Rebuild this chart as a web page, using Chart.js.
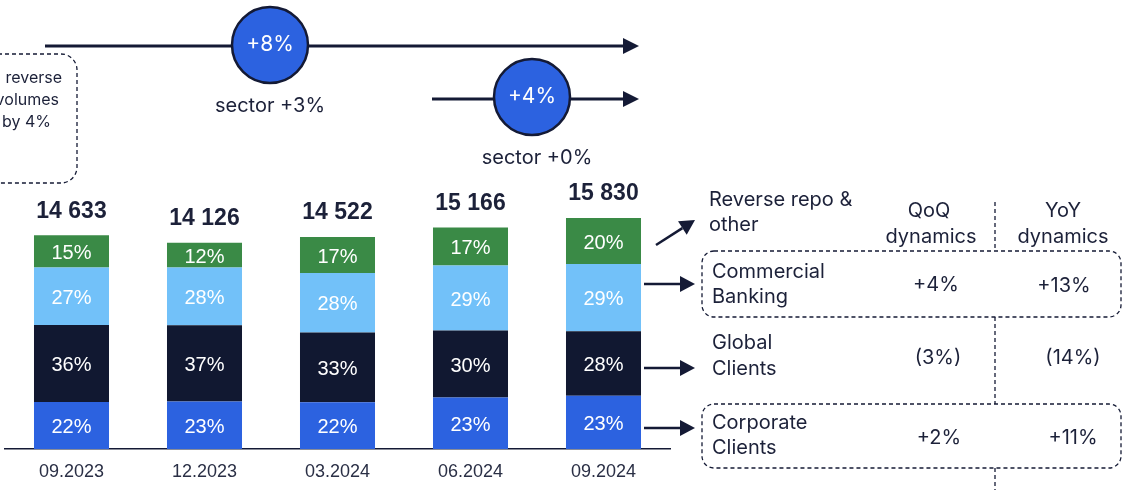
<!DOCTYPE html>
<html>
<head>
<meta charset="utf-8">
<script src="https://cdn.jsdelivr.net/npm/chart.js@4.4.1/dist/chart.umd.min.js"></script>
<style>
  html, body { margin: 0; padding: 0; background: #ffffff; }
  #wrap { width: 1128px; height: 490px; }
</style>
</head>
<body>
<div id="wrap"><canvas id="myBarChart" width="1128" height="490"></canvas></div>
<script>
///////////////////////////////////////
//////////////// Data /////////////////
///////////////////////////////////////

const periods = ['09.2023', '12.2023', '03.2024', '06.2024', '09.2024'];
const totals = [14633, 14126, 14522, 15166, 15830];

// shares of the total, bottom to top
const corporateShare = [22, 23, 22, 23, 23];
const globalShare = [36, 37, 33, 30, 28];
const commercialShare = [27, 28, 28, 29, 29];
const reverseShare = [15, 12, 17, 17, 20];

const NAVY = '#141a35';
const TEXT = '#1c2139';
const BLUE = '#2c62e0';
const DARK = '#111831';
const LIGHT = '#72c1f9';
const GREEN = '#3a8a46';

const shares = [corporateShare, globalShare, commercialShare, reverseShare];

// value of a stacked segment (share of the bar total)
function segmentValues(share) {
    return share.map((s, i) => {
        const sum = shares.reduce((a, arr) => a + arr[i], 0);
        return totals[i] * s / sum;
    });
}

function formatTotal(v) {
    return String(v).replace(/\B(?=(\d{3})+(?!\d))/g, ' ');
}

///////////////////////////////////////
/////////// Drawing helpers ///////////
///////////////////////////////////////

function arrow(ctx, x1, y1, x2, y2, head, half, width) {
    const ang = Math.atan2(y2 - y1, x2 - x1);
    const bx = x2 - head * Math.cos(ang);
    const by = y2 - head * Math.sin(ang);
    ctx.save();
    ctx.strokeStyle = NAVY;
    ctx.fillStyle = NAVY;
    ctx.lineWidth = width;
    ctx.beginPath();
    ctx.moveTo(x1, y1);
    ctx.lineTo(bx, by);
    ctx.stroke();
    ctx.beginPath();
    ctx.moveTo(x2, y2);
    ctx.lineTo(bx + half * Math.sin(ang), by - half * Math.cos(ang));
    ctx.lineTo(bx - half * Math.sin(ang), by + half * Math.cos(ang));
    ctx.closePath();
    ctx.fill();
    ctx.restore();
}

function dashedBox(ctx, x, y, w, h, r) {
    ctx.save();
    ctx.strokeStyle = NAVY;
    ctx.lineWidth = 1.3;
    ctx.setLineDash([4, 3]);
    ctx.beginPath();
    ctx.roundRect(x, y, w, h, r);
    ctx.stroke();
    ctx.restore();
}

function dashedLine(ctx, x, y1, y2) {
    ctx.save();
    ctx.strokeStyle = NAVY;
    ctx.lineWidth = 1.3;
    ctx.setLineDash([4, 3]);
    ctx.beginPath();
    ctx.moveTo(x, y1);
    ctx.lineTo(x, y2);
    ctx.stroke();
    ctx.restore();
}

function badge(ctx, cx, cy, r, text) {
    ctx.save();
    ctx.beginPath();
    ctx.arc(cx, cy, r, 0, Math.PI * 2);
    ctx.fillStyle = BLUE;
    ctx.fill();
    ctx.lineWidth = 2.5;
    ctx.strokeStyle = NAVY;
    ctx.stroke();
    ctx.fillStyle = '#ffffff';
    ctx.font = '21px Inter';
    ctx.textAlign = 'center';
    ctx.textBaseline = 'middle';
    ctx.fillText(text, cx, cy);
    ctx.restore();
}

function text(ctx, str, x, y, align, font) {
    ctx.save();
    ctx.fillStyle = TEXT;
    ctx.font = font || '20px Inter';
    ctx.textAlign = align || 'left';
    ctx.textBaseline = 'middle';
    ctx.fillText(str, x, y);
    ctx.restore();
}

///////////////////////////////////////
////////////// Plugins ////////////////
///////////////////////////////////////

// percentages inside the bars and totals above them
const barLabels = {
    id: 'barLabels',
    afterDatasetsDraw(chart) {
        const ctx = chart.ctx;
        ctx.save();
        ctx.textAlign = 'center';
        ctx.textBaseline = 'middle';
        chart.data.datasets.forEach((ds, di) => {
            const meta = chart.getDatasetMeta(di);
            meta.data.forEach((bar, i) => {
                ctx.fillStyle = '#ffffff';
                ctx.font = '20px "Liberation Sans"';
                ctx.fillText(shares[di][i] + '%', bar.x, (bar.y + bar.base) / 2 + 2);
            });
        });
        const top = chart.getDatasetMeta(chart.data.datasets.length - 1);
        top.data.forEach((bar, i) => {
            ctx.fillStyle = TEXT;
            ctx.font = 'bold 23px "Liberation Sans"';
            ctx.fillText(formatTotal(totals[i]), bar.x, bar.y - 24);
        });
        ctx.restore();
    }
};

// arrows, growth badges and the dynamics table
const overlay = {
    id: 'overlay',
    afterDraw(chart) {
        const ctx = chart.ctx;

        // growth arrows
        arrow(ctx, 45, 46, 639, 46, 16, 8, 3);
        badge(ctx, 270, 45, 38, '+8%');
        text(ctx, 'sector +3%', 270, 106, 'center');

        arrow(ctx, 432, 99, 639, 99, 16, 8, 3);
        badge(ctx, 532, 97, 38, '+4%');
        text(ctx, 'sector +0%', 537, 158, 'center');

        // cut off note box on the left
        dashedBox(ctx, -60, 54, 137, 129, 16);
        text(ctx, 'reverse', 62, 78, 'right', '16px Inter');
        text(ctx, 'volumes', 59, 100, 'right', '16px Inter');
        text(ctx, 'by 4%', 51, 122, 'right', '16px Inter');

        // arrows to the segment names
        arrow(ctx, 656, 245, 695, 220, 15, 8, 2.5);
        arrow(ctx, 644, 284, 695, 284, 15, 8, 2.5);
        arrow(ctx, 644, 368, 695, 368, 15, 8, 2.5);
        arrow(ctx, 644, 428, 695, 428, 15, 8, 2.5);

        // table
        text(ctx, 'Reverse repo &', 709, 200);
        text(ctx, 'other', 709, 225);
        text(ctx, 'QoQ', 929, 211, 'center');
        text(ctx, 'dynamics', 931, 237, 'center');
        text(ctx, 'YoY', 1063, 211, 'center');
        text(ctx, 'dynamics', 1063, 237, 'center');

        dashedLine(ctx, 995, 202, 251);
        dashedLine(ctx, 995, 317, 404);
        dashedLine(ctx, 995, 468, 490);
        dashedBox(ctx, 702, 251, 419, 66, 12);
        dashedBox(ctx, 702, 404, 419, 64, 12);

        text(ctx, 'Commercial', 712, 272);
        text(ctx, 'Banking', 712, 297);
        text(ctx, '+4%', 936, 285, 'center');
        text(ctx, '+13%', 1064, 286, 'center');

        text(ctx, 'Global', 712, 343);
        text(ctx, 'Clients', 712, 369);
        text(ctx, '(3%)', 938, 358, 'center');
        text(ctx, '(14%)', 1073, 358, 'center');

        text(ctx, 'Corporate', 712, 423);
        text(ctx, 'Clients', 712, 448);
        text(ctx, '+2%', 939, 438, 'center');
        text(ctx, '+11%', 1073, 438, 'center');
    }
};

///////////////////////////////////////
/////////////// Bar Chart /////////////
///////////////////////////////////////

const ctx = document.getElementById('myBarChart');
const myBarChart = new Chart(ctx, {
    type: 'bar',
    data: {
        labels: periods,
        datasets: [
            { label: 'Corporate Clients', data: segmentValues(corporateShare), backgroundColor: BLUE },
            { label: 'Global Clients', data: segmentValues(globalShare), backgroundColor: DARK },
            { label: 'Commercial Banking', data: segmentValues(commercialShare), backgroundColor: LIGHT },
            { label: 'Reverse repo & other', data: segmentValues(reverseShare), backgroundColor: GREEN }
        ]
    },
    options: {
        responsive: false,
        animation: false,
        devicePixelRatio: 1,
        categoryPercentage: 1,
        barPercentage: 0.564,
        layout: {
            padding: { left: 5, right: 458, top: 157, bottom: 0 }
        },
        scales: {
            x: {
                stacked: true,
                grid: { display: false, drawTicks: false },
                border: { display: true, color: NAVY, width: 1.5 },
                ticks: {
                    color: '#2a2f45',
                    padding: 12,
                    font: { family: 'Liberation Sans', size: 18 }
                },
                afterFit: (scale) => { scale.height = 41; }
            },
            y: {
                stacked: true,
                display: false,
                min: 0,
                max: 20000
            }
        },
        plugins: {
            legend: { display: false },
            tooltip: { enabled: false }
        }
    },
    plugins: [barLabels, overlay]
});
</script>
</body>
</html>
